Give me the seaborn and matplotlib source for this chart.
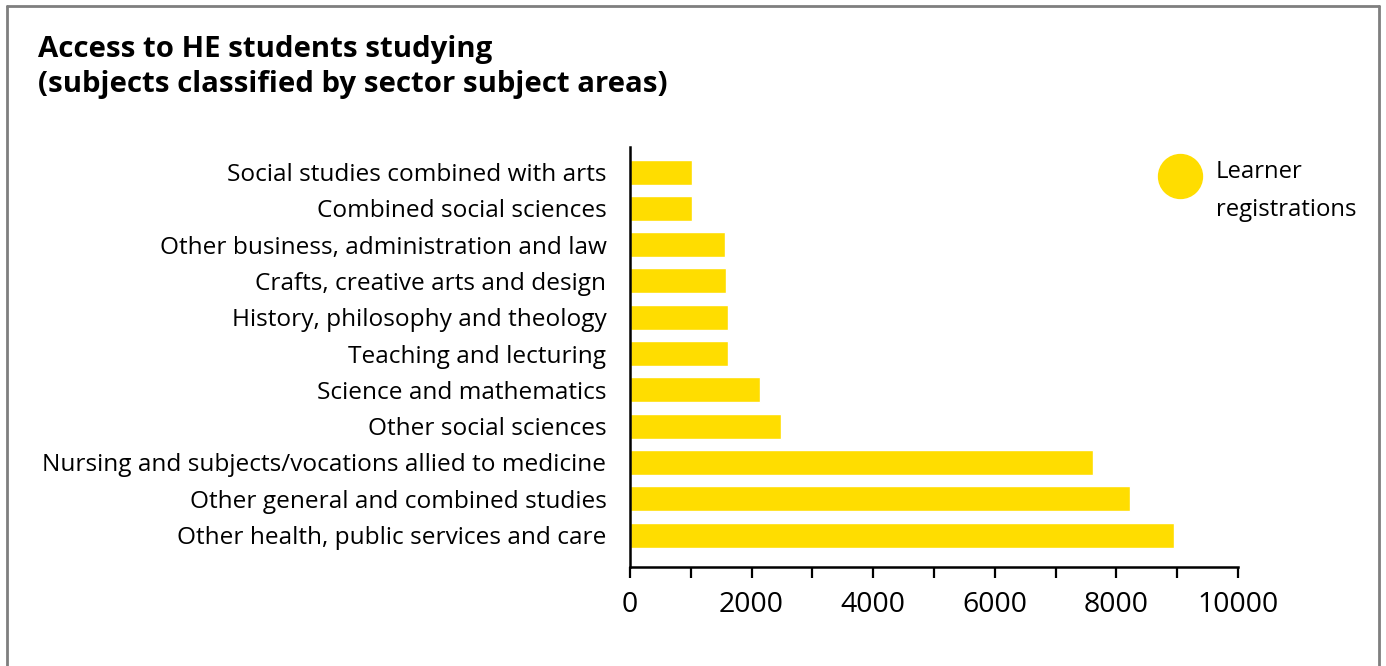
import numpy as np
import pandas as pd
import matplotlib
matplotlib.use('Agg')
import matplotlib.pyplot as plt
from matplotlib.ticker import MultipleLocator, FuncFormatter
from matplotlib.lines import Line2D
import seaborn as sns

# subjects, top to bottom as drawn
subjects = [
    "Social studies combined with arts",
    "Combined social sciences",
    "Other business, administration and law",
    "Crafts, creative arts and design",
    "History, philosophy and theology",
    "Teaching and lecturing",
    "Science and mathematics",
    "Other social sciences",
    "Nursing and subjects/vocations allied to medicine",
    "Other general and combined studies",
    "Other health, public services and care",
]
registrations = [1020, 1020, 1560, 1580, 1610, 1610, 2140, 2480, 7610, 8220, 8940]
series_label = "Learner\nregistrations"
title = "Access to HE students studying\n(subjects classified by sector subject areas)"

YELLOW = "#FFDD00"


def main():
    sns.set_style("white")
    plt.rcParams['font.family'] = ['Open Sans', 'DejaVu Sans']
    plt.rcParams['text.color'] = 'black'
    plt.rcParams['xtick.color'] = 'black'
    plt.rcParams['ytick.color'] = 'black'

    df = pd.DataFrame({"subject": subjects, "value": registrations})

    fig = plt.figure(figsize=(13.86, 6.66), dpi=100)
    ax = fig.add_axes([630 / 1386, 1 - 567 / 666, 608 / 1386, 420 / 666])

    sns.barplot(data=df, x="value", y="subject", color=YELLOW, width=0.69,
                saturation=1, ax=ax)

    ax.set_xlim(0, 10000)
    ax.set_ylim(10.88, -0.69)
    ax.set_xlabel("")
    ax.set_ylabel("")

    for side in ["top", "right"]:
        ax.spines[side].set_visible(False)
    for side in ["left", "bottom"]:
        ax.spines[side].set_color("black")
        ax.spines[side].set_linewidth(1.8)

    ax.xaxis.set_major_locator(MultipleLocator(1000))
    ax.xaxis.set_major_formatter(
        FuncFormatter(lambda v, p: "%d" % v if int(round(v)) % 2000 == 0 else ""))
    ax.tick_params(axis="x", direction="out", length=8, width=1.6, color="black",
                   labelsize=20.5, pad=9, bottom=True)
    ax.tick_params(axis="y", length=0, labelsize=17.6, pad=17)

    fig.text(38 / 1386, 1 - 35 / 666, title, fontsize=21.2, fontweight="bold",
             ha="left", va="top", linespacing=1.26)

    # legend marker and text
    ax.scatter([1180 / 1386], [1 - 176 / 666], s=1000, color=YELLOW,
               transform=fig.transFigure, clip_on=False, zorder=5)
    fig.text(1216 / 1386, 1 - 160 / 666, series_label, fontsize=17.2,
             ha="left", va="top", linespacing=1.75)

    # frame around the figure (open at bottom)
    border = dict(color="#7f7f7f", linewidth=2, transform=fig.transFigure)
    fig.add_artist(Line2D([7 / 1386, 7 / 1386], [0, 1 - 6 / 666], **border))
    fig.add_artist(Line2D([7 / 1386, 1379 / 1386], [1 - 6 / 666, 1 - 6 / 666], **border))
    fig.add_artist(Line2D([1379 / 1386, 1379 / 1386], [0, 1 - 6 / 666], **border))

    plt.savefig("out.png", dpi=100)


if __name__ == "__main__":
    main()
